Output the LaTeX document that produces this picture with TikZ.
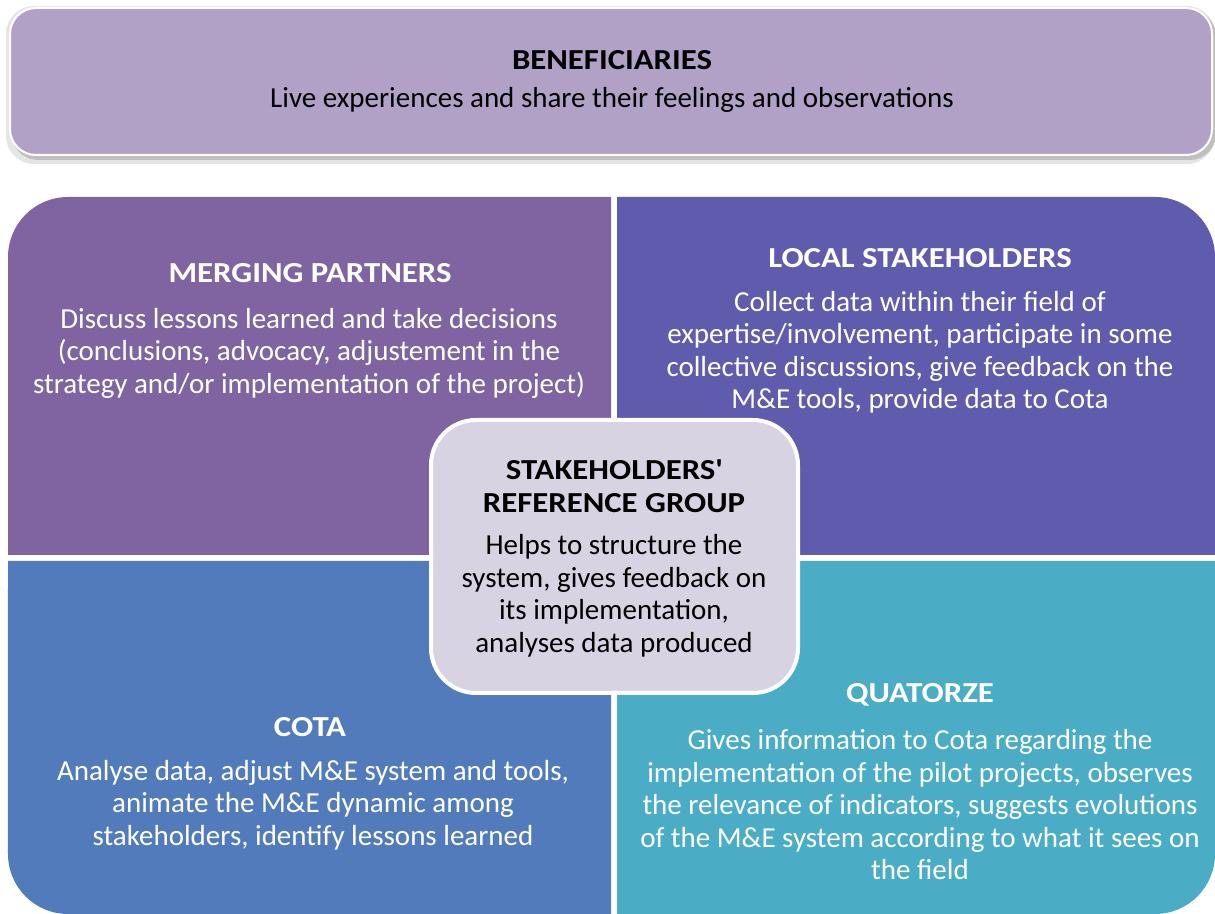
\documentclass[tikz,border=0pt]{standalone}
\usepackage{fontspec}
\setmainfont{Carlito}
\newfontfamily\titlefont[FakeStretch=1.13]{Carlito}
\definecolor{benefcol}{HTML}{B2A1C7}
\definecolor{mpcol}{HTML}{8064A2}
\definecolor{lscol}{HTML}{5F5BAD}
\definecolor{cotacol}{HTML}{527BBC}
\definecolor{qzcol}{HTML}{4BACC6}
\definecolor{srgcol}{HTML}{D8D3E3}
\begin{document}
\begin{tikzpicture}[x=1bp,y=1bp,
  txt/.style={font=\fontsize{29bp}{32.5bp}\selectfont, align=center, inner sep=0pt},
  ttl/.style={txt, font=\fontsize{29bp}{32.5bp}\selectfont\titlefont\bfseries},
  wtxt/.style={txt, text=white},
  wttl/.style={ttl, text=white}
]
\useasboundingbox (0,0) rectangle (1215,914);
% top box with shadow
\fill[black!10, rounded corners=28bp] (6,750) rectangle (1215,908);
\fill[black!25, rounded corners=26bp] (12,754) rectangle (1216,904);
\filldraw[fill=benefcol, draw=white, line width=2bp, rounded corners=26bp] (10,759) rectangle (1212,906);
% quadrants
\fill[mpcol] (8,359) -- (8,657) arc[start angle=180,end angle=90,radius=60bp] -- (611,717) -- (611,359) -- cycle;
\fill[lscol] (617,359) -- (617,717) -- (1155,717) arc[start angle=90,end angle=0,radius=60bp] -- (1215,359) -- cycle;
\fill[cotacol] (8,353) -- (611,353) -- (611,0) -- (68,0) arc[start angle=270,end angle=180,radius=60bp] -- cycle;
\fill[qzcol] (617,353) -- (1215,353) -- (1215,60) arc[start angle=0,end angle=-90,radius=60bp] -- (617,0) -- cycle;
% centre box
\filldraw[fill=srgcol, draw=white, line width=4bp, rounded corners=45bp] (431,221) rectangle (798,494);
% texts
\node[ttl] (bt) at (612,854) {BENEFICIARIES};
\node[txt] (bb) at (612,814) {Live experiences and share their feelings and observations};
\node[wttl] (mt) at (310,641) {MERGING PARTNERS};
\node[wtxt] (mb) at (309,561) {Discuss lessons learned and take decisions\\(conclusions, advocacy, adjustement in the\\strategy and/or implementation of the project)};
\node[wttl] (lt) at (920,656) {LOCAL STAKEHOLDERS};
\node[wtxt] (lb) at (920,561.5) {Collect data within their field of\\expertise/involvement, participate in some\\collective discussions, give feedback on the\\M\&E tools, provide data to Cota};
\node[ttl] (st) at (614,428) {STAKEHOLDERS\textquotesingle\\REFERENCE GROUP};
\node[txt] (sb) at (614,318) {Helps to structure the\\system, gives feedback on\\its implementation,\\analyses data produced};
\node[wttl] (ct) at (310,187) {COTA};
\node[wtxt] (cb) at (313,109) {Analyse data, adjust M\&E system and tools,\\animate the M\&E dynamic among\\stakeholders, identify lessons learned};
\node[wttl] (qt) at (920,219) {QUATORZE};
\node[wtxt] (qb) at (920,109) {Gives information to Cota regarding the\\implementation of the pilot projects, observes\\the relevance of indicators, suggests evolutions\\of the M\&E system according to what it sees on\\the field};
\end{tikzpicture}
\end{document}
